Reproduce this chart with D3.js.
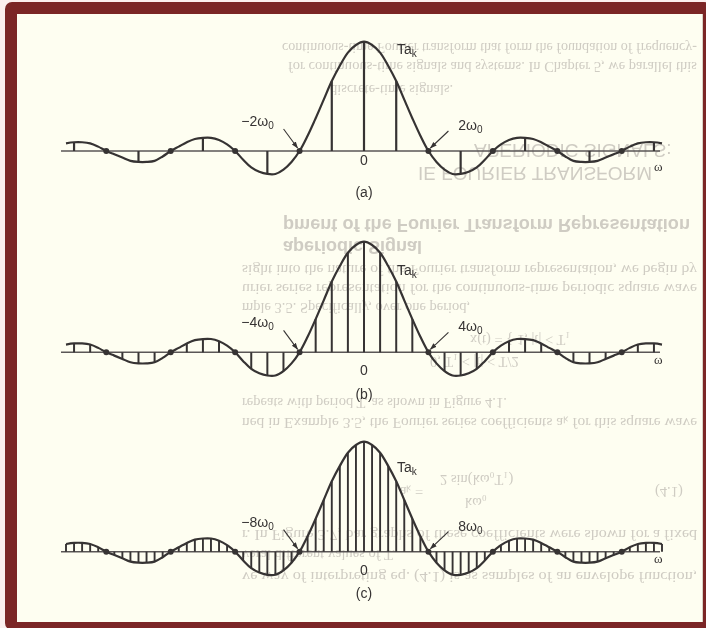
<!DOCTYPE html>
<html>
<head>
<meta charset="utf-8">
<script src="https://cdn.jsdelivr.net/npm/d3@7"></script>
<style>
  html, body { margin: 0; padding: 0; background: #fbefee; }
  svg { display: block; }
</style>
</head>
<body>
<script>
// Envelope T·a_k sampled on the finest grid (panel c spacing), from the centre outwards.
const envelopeHalf = [1.00, 0.97, 0.90, 0.78, 0.64, 0.47, 0.30, 0.14, 0.00,
  -0.10, -0.17, -0.21, -0.21, -0.19, -0.15, -0.08, 0.00,
  0.06, 0.10, 0.12, 0.12, 0.11, 0.08, 0.04, 0.00,
  -0.05, -0.09, -0.10, -0.10, -0.09, -0.06, -0.03, 0.00,
  0.04, 0.07, 0.08, 0.08, 0.07];
const panelNames = ["(a)", "(b)", "(c)"];
const sampleStep = [4, 2, 1];          // spectral lines every n grid points
const zeroMultiple = ["2", "4", "8"];   // first zero crossing in units of ω0

// Page text showing through from the reverse side of the sheet:
// [text, left x, baseline y, style, right x for justified lines]
const ghostLines = [
  ["continuous-time Fourier transform that form the foundation of frequency-", 282, 53, "serif", 697],
  ["for continuous-time signals and systems. In Chapter 5, we parallel this", 288, 72, "serif", 697],
  ["discrete-time signals.", 330, 95, "serif"],
  ["APERIODIC SIGNALS:", 474, 157, "head"],
  ["IE FOURIER TRANSFORM", 418, 180, "head"],
  ["pment of the Fourier Transform Representation", 283, 232, "bold", 690],
  ["aperiodic Signal", 283, 254, "bold"],
  ["sight into the nature of the Fourier transform representation, we begin by", 242, 275, "serif", 697],
  ["urier series representation for the continuous-time periodic square wave", 242, 294, "serif", 697],
  ["mple 3.5. Specifically, over one period,", 242, 313, "serif"],
  ["x(t) = {  1,   |t| < T₁", 470, 345, "serif"],
  ["0,   T₁ < |t| < T/2", 430, 367, "serif"],
  ["repeats with period T, as shown in Figure 4.1.", 242, 408, "serif"],
  ["ned in Example 3.5, the Fourier series coefficients aₖ for this square wave", 242, 428, "serif", 697],
  ["2 sin(kω₀T₁)", 440, 485, "serif"],
  ["aₖ  =", 400, 497, "serif"],
  ["kω₀", 465, 508, "serif"],
  ["(4.1)", 655, 497, "serif"],
  ["r. In Figure 3.7, bar graphs of these coefficients were shown for a fixed", 242, 540, "serif", 697],
  ["veral different values of T.", 242, 560, "serif"],
  ["ve way of interpreting eq. (4.1) is as samples of an envelope function,", 242, 582, "serif", 697]
];

const W = 706, H = 628;
const ink = "#363333";

const svg = d3.select("body").append("svg")
  .attr("width", W).attr("height", H)
  .attr("viewBox", `0 0 ${W} ${H}`);

// Frame and sheet
svg.append("rect").attr("width", W).attr("height", H).attr("fill", "#fbefee");
svg.append("rect").attr("x", 5).attr("y", 2).attr("width", W).attr("height", H)
  .attr("rx", 7).attr("fill", "#7b2626");
const page = { x: 17, y: 14, w: 686, h: 608 };
svg.append("rect").attr("x", page.x).attr("y", page.y)
  .attr("width", page.w).attr("height", page.h).attr("fill", "#fefef1");
svg.append("line").attr("x1", page.x + page.w - 0.5).attr("x2", page.x + page.w - 0.5)
  .attr("y1", page.y).attr("y2", page.y + page.h)
  .attr("stroke", "#d9d2c4").attr("stroke-width", 1);

const defs = svg.append("defs");
defs.append("filter").attr("id", "soft")
  .append("feGaussianBlur").attr("stdDeviation", 0.7);

const ghost = svg.append("g")
  .attr("filter", "url(#soft)").attr("fill", "#cfccc3");
ghostLines.forEach(([txt, gx, gy, kind, right]) => {
  const size = kind === "serif" ? 14.5 : (kind === "head" ? 19 : 18);
  const t = ghost.append("text")
    .attr("transform", `translate(${gx},${gy - size * 0.35}) scale(1,-1)`)
    .attr("y", size * 0.35)
    .attr("font-family", kind === "serif" ? "'Liberation Serif', serif" : "'Liberation Sans', Arial, sans-serif")
    .attr("font-weight", kind === "bold" ? "bold" : "normal")
    .attr("font-size", size)
    .text(txt);
  if (right) t.attr("textLength", right - gx).attr("lengthAdjust", "spacingAndGlyphs");
});

// Frequency axis shared by the three plots (grid index → px)
const x = d3.scaleLinear().domain([-37, 37]).range([66, 662]);
const envelope = d3.range(-37, 38).map(j => ({ j, v: envelopeHalf[Math.abs(j)] }));

const panels = [
  { axisY: 151,   peakY: 41.7,  zeroDy: 14, nameDy: 46, omegaDy: 20, takDy: 12, stem: 2.2 },
  { axisY: 352.3, peakY: 241.7, zeroDy: 23, nameDy: 47, omegaDy: 12, takDy: 33, stem: 2.0 },
  { axisY: 551.7, peakY: 441.7, zeroDy: 23, nameDy: 46, omegaDy: 11, takDy: 30, stem: 1.9 }
];

defs.append("marker").attr("id", "head")
  .attr("viewBox", "0 0 10 10").attr("refX", 9).attr("refY", 5)
  .attr("markerWidth", 7).attr("markerHeight", 7).attr("orient", "auto")
  .attr("markerUnits", "userSpaceOnUse")
  .append("path").attr("d", "M0,1.5 L10,5 L0,8.5 Z").attr("fill", ink);

const sans = "'Liberation Sans', Arial, Helvetica, sans-serif";

panels.forEach((p, i) => {
  const y = d3.scaleLinear().domain([0, 1]).range([p.axisY, p.peakY]);
  const g = svg.append("g");
  const step = sampleStep[i];

  // ω axis
  g.append("line")
    .attr("x1", x(-37) - 5).attr("x2", x(37) - 2)
    .attr("y1", p.axisY).attr("y2", p.axisY)
    .attr("stroke", "#5a5656").attr("stroke-width", 1.4);

  // spectral lines
  g.selectAll("line.stem")
    .data(envelope.filter(d => d.j % step === 0 && d.v !== 0))
    .join("line").attr("class", "stem")
    .attr("x1", d => x(d.j)).attr("x2", d => x(d.j))
    .attr("y1", p.axisY).attr("y2", d => y(d.v))
    .attr("stroke", ink).attr("stroke-width", p.stem);

  // envelope
  g.append("path")
    .datum(envelope)
    .attr("d", d3.line().x(d => x(d.j)).y(d => y(d.v)).curve(d3.curveCatmullRom.alpha(0.5)))
    .attr("fill", "none").attr("stroke", ink).attr("stroke-width", 2.2);

  // zero crossings
  g.selectAll("circle")
    .data(envelope.filter(d => d.v === 0))
    .join("circle")
    .attr("cx", d => x(d.j)).attr("cy", p.axisY).attr("r", 3)
    .attr("fill", ink);

  // labels
  g.append("text").attr("x", x(0)).attr("y", p.axisY + p.zeroDy)
    .attr("text-anchor", "middle").attr("font-family", sans).attr("font-size", 14)
    .attr("fill", ink).text("0");
  g.append("text").attr("x", x(0)).attr("y", p.axisY + p.nameDy)
    .attr("text-anchor", "middle").attr("font-family", sans).attr("font-size", 14)
    .attr("fill", ink).text(panelNames[i]);
  g.append("text").attr("x", x(37) - 8).attr("y", p.axisY + p.omegaDy)
    .attr("font-family", "'Liberation Serif', serif").attr("font-size", 13)
    .attr("fill", ink).text("ω");

  const tak = g.append("text").attr("x", x(0) + 33).attr("y", p.peakY + p.takDy)
    .attr("font-family", sans).attr("font-size", 14).attr("fill", ink);
  tak.append("tspan").text("Ta");
  tak.append("tspan").attr("font-size", 10).attr("dy", 3).text("k");

  const zLeft = x(-8), zRight = x(8);
  [[-1, "−" + zeroMultiple[i]], [1, zeroMultiple[i]]].forEach(([s, lbl]) => {
    const z = s < 0 ? zLeft : zRight;
    const t = g.append("text")
      .attr("x", z + s * 42).attr("y", p.axisY - (s < 0 ? 25 : 21))
      .attr("text-anchor", "middle").attr("font-family", sans)
      .attr("font-size", 14).attr("fill", ink);
    t.append("tspan").text(lbl + "ω");
    t.append("tspan").attr("font-size", 10).attr("dy", 3).text("0");

    g.append("line")
      .attr("x1", z + s * (s < 0 ? 16 : 20)).attr("y1", p.axisY - (s < 0 ? 22 : 20))
      .attr("x2", z + s * 2).attr("y2", p.axisY - 3)
      .attr("stroke", ink).attr("stroke-width", 1.1)
      .attr("marker-end", "url(#head)");
  });
});
</script>
</body>
</html>
